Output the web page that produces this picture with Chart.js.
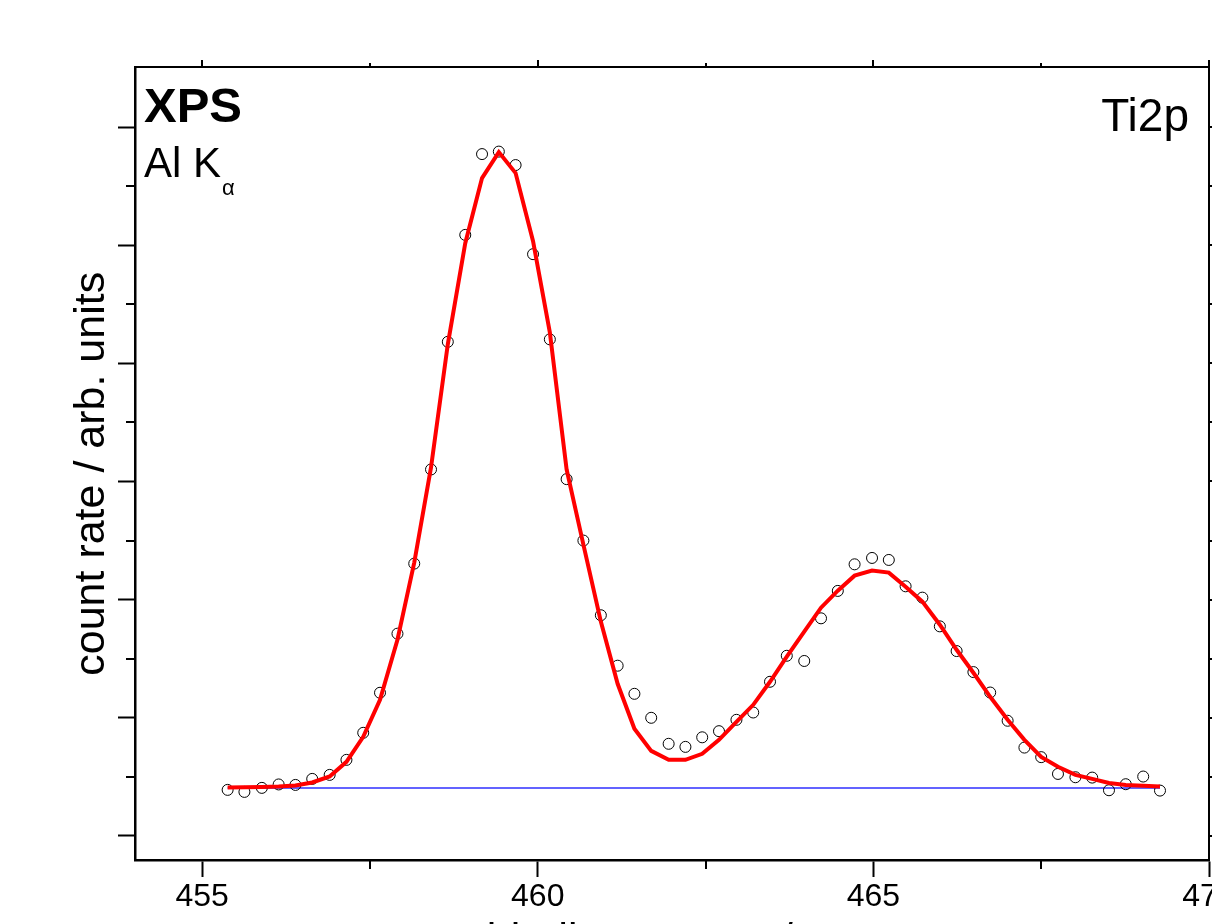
<!DOCTYPE html>
<html><head><meta charset="utf-8">
<script src="https://cdn.jsdelivr.net/npm/chart.js@4/dist/chart.umd.min.js"></script>
<style>html,body{margin:0;padding:0;background:#fff;} canvas{display:block;}</style>
</head><body>
<canvas id="c" width="1212" height="924"></canvas>
<script>
// ---- data (binding energy in eV, intensity in arbitrary units) ----
const energy = [455.38,455.63,455.89,456.14,456.39,456.64,456.90,457.15,457.40,457.65,
  457.91,458.16,458.41,458.66,458.92,459.17,459.42,459.67,459.93,460.18,
  460.43,460.68,460.94,461.19,461.44,461.69,461.95,462.20,462.45,462.70,
  462.96,463.21,463.46,463.71,463.97,464.22,464.47,464.72,464.98,465.23,
  465.48,465.73,465.99,466.24,466.49,466.74,467.00,467.25,467.50,467.75,
  468.01,468.26,468.51,468.76,469.02,469.27];
const counts = [0.390,0.373,0.407,0.436,0.432,0.483,0.517,0.644,0.873,1.212,
  1.712,2.305,3.102,4.182,5.087,5.771,5.792,5.678,4.924,4.203,
  3.020,2.500,1.868,1.441,1.203,1.000,0.780,0.754,0.835,0.887,
  0.983,1.045,1.305,1.525,1.481,1.842,2.074,2.299,2.353,2.336,
  2.113,2.017,1.774,1.565,1.387,1.214,0.975,0.748,0.667,0.525,
  0.497,0.494,0.387,0.438,0.503,0.384];
const fit = [0.411,0.413,0.415,0.419,0.428,0.453,0.504,0.627,0.839,1.153,
  1.661,2.314,3.119,4.161,5.017,5.568,5.788,5.610,5.034,4.263,
  3.102,2.466,1.814,1.288,0.907,0.720,0.644,0.644,0.695,0.814,
  0.966,1.110,1.305,1.517,1.729,1.932,2.076,2.203,2.246,2.229,
  2.110,1.983,1.788,1.576,1.381,1.178,0.983,0.814,0.669,0.585,
  0.517,0.483,0.449,0.432,0.424,0.419];
const baselineLevel = 0.407;
const xMajorTicks = [455, 460, 465, 470];
const xMinorTicks = [457.5, 462.5, 467.5];
const yMajorTicks = [0, 1, 2, 3, 4, 5, 6];
const yMinorTicks = [0.5, 1.5, 2.5, 3.5, 4.5, 5.5];
const xTitle = 'binding energy / eV';
const yTitle = 'count rate / arb. units';

const FF = "'Liberation Sans', Arial, Helvetica, sans-serif";

const pts = energy.map((e, i) => ({x: e, y: counts[i]}));
const fitPts = energy.map((e, i) => ({x: e, y: fit[i]}));
const basePts = [{x: energy[0], y: baselineLevel}, {x: energy[energy.length - 1], y: baselineLevel}];

const setTicks = (arr) => (s) => { s.ticks = arr.map(v => ({value: v})); };
const fixH = (h) => (s) => { s.height = h; s.paddingLeft = 0; s.paddingRight = 0; };
const fixW = (w) => (s) => { s.width = w; s.paddingTop = 0; s.paddingBottom = 0; };

const tickPlugin = {
  id: 'extraTicks',
  afterDraw(chart) {
    const ctx = chart.ctx, a = chart.chartArea, sc = chart.scales;
    ctx.save();
    ctx.strokeStyle = '#000';
    ctx.lineWidth = 2;
    ctx.beginPath();
    xMinorTicks.forEach(v => {
      const px = Math.round(sc.x.getPixelForValue(v));
      ctx.moveTo(px, a.bottom); ctx.lineTo(px, a.bottom + 9);
      ctx.moveTo(px, a.top); ctx.lineTo(px, a.top - 4);
    });
    xMajorTicks.forEach(v => {
      const px = Math.round(sc.x.getPixelForValue(v));
      ctx.moveTo(px, a.top); ctx.lineTo(px, a.top - 7);
    });
    yMinorTicks.forEach(v => {
      const py = Math.round(sc.y.getPixelForValue(v));
      ctx.moveTo(a.left, py); ctx.lineTo(a.left - 9, py);
      ctx.moveTo(a.right, py); ctx.lineTo(a.right + 4, py);
    });
    yMajorTicks.forEach(v => {
      const py = Math.round(sc.y.getPixelForValue(v));
      ctx.moveTo(a.right, py); ctx.lineTo(a.right + 7, py);
    });
    ctx.stroke();
    // annotations
    ctx.fillStyle = '#000';
    ctx.textBaseline = 'alphabetic';
    ctx.textAlign = 'left';
    ctx.font = 'bold 49px ' + FF;
    ctx.fillText('XPS', a.left + 9, 122);
    ctx.font = '42px ' + FF;
    ctx.fillText('Al K', a.left + 9, 177);
    ctx.font = '22px ' + FF;
    ctx.fillText('α', 222, 195);
    ctx.font = '46px ' + FF;
    ctx.textAlign = 'right';
    ctx.fillText('Ti2p', 1189, 131);
    ctx.restore();
  }
};

new Chart(document.getElementById('c'), {
  type: 'scatter',
  data: {
    datasets: [
      {label: 'fit', data: fitPts, showLine: true, borderColor: '#ff0000', borderWidth: 4,
       pointRadius: 0, tension: 0, fill: false, order: 0},
      {label: 'data', data: pts, showLine: false, pointStyle: 'circle', pointRadius: 5.5,
       pointBorderWidth: 1, pointBorderColor: '#000', pointBackgroundColor: 'rgba(255,255,255,0)', order: 1},
      {label: 'background', data: basePts, showLine: true, borderColor: '#2f2fff', borderWidth: 1.5,
       pointRadius: 0, fill: false, order: 2}
    ]
  },
  options: {
    responsive: false,
    animation: false,
    devicePixelRatio: 1,
    layout: {autoPadding: false, padding: {top: 67, right: 3, left: 0, bottom: 0}},
    plugins: {legend: {display: false}, tooltip: {enabled: false}},
    scales: {
      x: {
        type: 'linear', position: 'bottom', min: 454, max: 470,
        afterBuildTicks: setTicks(xMajorTicks), afterFit: fixH(64),
        grid: {drawOnChartArea: false, drawTicks: true, tickLength: 17, tickWidth: 2, tickColor: '#000'},
        border: {display: true, color: '#000', width: 2.5},
        ticks: {autoSkip: false, maxRotation: 0, padding: 1, color: '#000',
                font: {family: FF, size: 32}, callback: v => String(v)},
        title: {display: true, text: xTitle, color: '#000', font: {family: FF, size: 43},
                padding: {top: 0, bottom: -43}}
      },
      xTop: {
        type: 'linear', position: 'top', min: 454, max: 470,
        afterBuildTicks: setTicks(xMajorTicks), afterFit: fixH(0),
        grid: {drawOnChartArea: false, drawTicks: false},
        border: {display: true, color: '#000', width: 2},
        ticks: {display: false}
      },
      y: {
        type: 'linear', position: 'left', min: -0.2034, max: 6.508,
        afterBuildTicks: setTicks(yMajorTicks), afterFit: fixW(135),
        grid: {drawOnChartArea: false, drawTicks: true, tickLength: 17, tickWidth: 2, tickColor: '#000'},
        border: {display: true, color: '#000', width: 2.5},
        ticks: {display: false},
        title: {display: true, text: yTitle + ' \u2009', color: '#000', font: {family: FF, size: 43},
                padding: {top: 66, bottom: 0}}
      },
      yR: {
        type: 'linear', position: 'right', min: -0.2034, max: 6.508,
        afterBuildTicks: setTicks(yMajorTicks), afterFit: fixW(0),
        grid: {drawOnChartArea: false, drawTicks: false},
        border: {display: true, color: '#000', width: 2},
        ticks: {display: false}
      }
    }
  },
  plugins: [tickPlugin]
});
</script>
</body></html>
